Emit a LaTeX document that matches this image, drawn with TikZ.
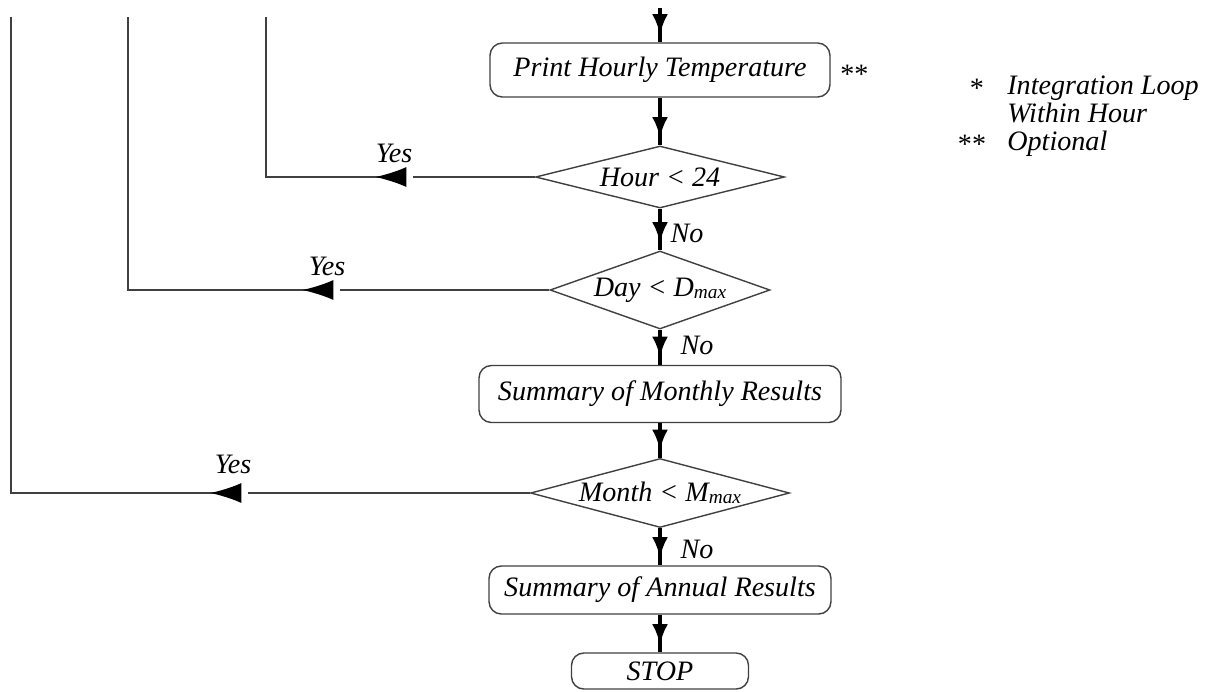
\documentclass[tikz,border=0pt]{standalone}
\usepackage{fontspec}
\setmainfont{Liberation Serif}
\usetikzlibrary{shapes.geometric,arrows.meta,decorations.markings}

\tikzset{back/.style={draw=black!75, line width=0.8pt, postaction={decorate},
  decoration={markings, mark=at position #1 with {%
    \fill[white] (-0.76cm,-1.2pt) rectangle (-0.62cm,1.2pt);
    \arrow[black]{Latex[length=0.62cm,width=0.4cm]}}}}}

\begin{document}
\begin{tikzpicture}[x=0.02cm,y=-0.02cm]
\tikzstyle{every node}+=[font=\fontsize{16}{19}\selectfont\itshape, inner sep=0pt]
\tikzstyle{box}=[draw=black!75, line width=0.8pt, rounded corners=7pt]
\tikzstyle{test}=[draw=black!75, line width=0.8pt, diamond]
\tikzstyle{flow}=[line width=2.8pt, postaction={decorate},
  decoration={markings, mark=at position -4pt with {\arrow{Latex[length=12pt,width=9pt]}}}]
\useasboundingbox (0,0) rectangle (1211,691);

\node[box, minimum width=6.8cm, minimum height=1.08cm]  (print)   at (660,70)  {Print Hourly Temperature};
\node[test, aspect=4, minimum width=4.98cm, minimum height=1.24cm] (hour) at (660,177) {Hour < 24};
\node[test, aspect=2.8, minimum width=4.4cm, minimum height=1.56cm] (day) at (660,290) {Day < D\raisebox{-0.2ex}{\fontsize{11}{11}\selectfont max}};
\node[box, minimum width=7.24cm, minimum height=1.14cm]  (monthly) at (660,394) {Summary of Monthly Results};
\node[test, aspect=3.7, minimum width=5.18cm, minimum height=1.38cm] (month) at (660,493) {Month < M\raisebox{-0.2ex}{\fontsize{11}{11}\selectfont max}};
\node[box, minimum width=6.84cm, minimum height=0.96cm]  (annual) at (660,590) {Summary of Annual Results};
\node[box, minimum width=3.54cm, minimum height=0.72cm]  (stop)   at (660,671) {STOP};

\coordinate (in) at (660,8);
\coordinate (h1) at (266,177);
\coordinate (h0) at (266,17);
\coordinate (d1) at (128,290);
\coordinate (d0) at (128,17);
\coordinate (m1) at (11,493);
\coordinate (m0) at (11,17);

% downward flow
\path (in)      edge[flow] (print)
      (print)   edge[flow] (hour)
      (hour)    edge[flow] (day)
      (day)     edge[flow] (monthly)
      (monthly) edge[flow] (month)
      (month)   edge[flow] (annual)
      (annual)  edge[flow] (stop);

% loops back
\draw[back=3.19cm] (hour.west) -- (h1) -- (h0);
\draw[back=4.94cm] (day.west) -- (d1) -- (d0);
\draw[back=6.39cm] (month.west) -- (m1) -- (m0);

\node (yes1) at (394,153) {Yes};
\node (yes2) at (327,266) {Yes};
\node (yes3) at (233,464) {Yes};
\node (no1) at (687,233) {No};
\node (no2) at (697,345) {No};
\node (no3) at (697,549) {No};

% legend
\node[anchor=west] (opt) at (840,74) {\upshape **};
\node[anchor=base] (s1) at (977,97) {\upshape *};
\node[anchor=base west] (l1) at (1007,94) {Integration Loop};
\node[anchor=base west] (l2) at (1007,122) {Within Hour};
\node[anchor=base] (s2) at (972,153) {\upshape **};
\node[anchor=base west] (l3) at (1007,150) {Optional};
\end{tikzpicture}
\end{document}
